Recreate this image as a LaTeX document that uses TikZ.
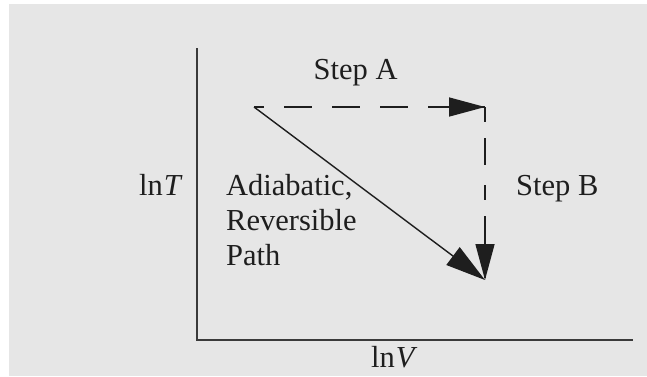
\documentclass[tikz,border=0pt]{standalone}
\usepackage{fontspec}
\setmainfont{Liberation Serif}
\usetikzlibrary{arrows.meta}
\definecolor{bg}{HTML}{E6E6E6}
\definecolor{ink}{HTML}{1E1E1E}
\definecolor{axis}{HTML}{3A3A3A}
\tikzset{
  lbl/.style={inner sep=0pt, text=ink, font=\fontsize{30.5}{35}\selectfont},
  axisline/.style={draw=axis, line width=2.4pt},
  path1/.style={draw=ink, line width=1.4pt, -{Triangle[length=40pt,width=22pt]}},
  dpath/.style={draw=ink, line width=1.8pt, dash pattern=on 28pt off 20pt, dash phase=18pt},
  headonly/.style={ink, -{Triangle[length=36pt,width=19pt]}, line width=1.5pt},
}
\begin{document}
\begin{tikzpicture}[x=1pt,y=-1pt]
\useasboundingbox (0,0) rectangle (647,376);
\fill[bg] (9,4) rectangle (647,376);
% axes
\coordinate (top) at (197,48);
\coordinate (origin) at (197,340);
\coordinate (right) at (633,340);
\draw[axisline] (top) -- (origin) -- (right);
% points
\coordinate (s) at (254,107);
\coordinate (c) at (485,107);
\coordinate (e) at (485,280);
% dashed path
\draw[dpath] (s) -- (c);
\draw[dpath, dash phase=0pt, dash pattern=on 15pt off 16pt on 27pt off 20pt] (c) -- (e);
\draw[headonly] ([xshift=-40pt]c) -- (c);
\draw[headonly] ([yshift=40pt]e) -- (e);
% diagonal
\draw[path1] (s) -- (e);
% labels
\node[lbl, anchor=base west] (stepA) at (313.5,79) {Step A};
\node[lbl, anchor=base west] (stepB) at (516,195) {Step B};
\node[lbl, anchor=base west] (lnT) at (139,195) {ln\kern1pt\textit{T}};
\node[lbl, anchor=base west] (lnV) at (371,367) {ln\kern1pt\textit{V}};
\node[lbl, anchor=base west, align=left] (adiab) at (226,265) {Adiabatic,\\Reversible\\Path};
\end{tikzpicture}
\end{document}
